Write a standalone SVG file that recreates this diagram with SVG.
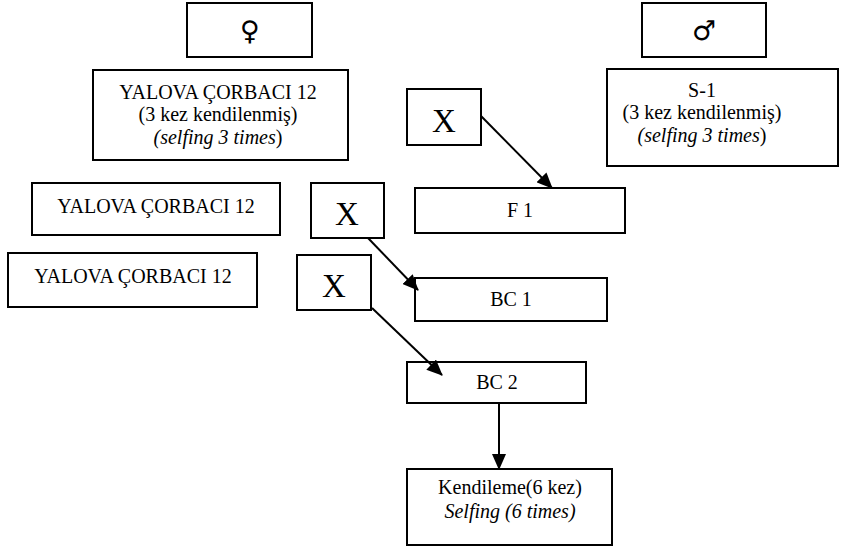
<svg xmlns="http://www.w3.org/2000/svg" width="846" height="547" viewBox="0 0 846 547">
<style>
.box{fill:#fff;stroke:#000;stroke-width:2}
.t{font-family:"Liberation Serif","Times New Roman",serif;font-size:20px;fill:#000;text-anchor:middle}
.i{font-style:italic}
.x{font-family:"Liberation Serif","Times New Roman",serif;font-size:33px;fill:#000;text-anchor:middle}
.sym{font-family:"DejaVu Sans",sans-serif;font-size:27px;fill:#000;text-anchor:middle}
.c{stroke:#000;stroke-width:2;fill:none;marker-end:url(#ah)}
</style>
<defs>
<marker id="ah" markerUnits="userSpaceOnUse" markerWidth="16" markerHeight="14" refX="15" refY="7" orient="auto">
<path d="M0,0 L16,7 L0,14 Z" fill="#000"/>
</marker>
</defs>
<rect width="846" height="547" fill="#fff"/>
<g id="female"><rect class="box" x="187" y="3" width="125" height="54"/><text class="sym" x="250" y="40">♀</text></g>
<g id="male"><rect class="box" x="642" y="3" width="124" height="54"/><text class="sym" x="704" y="40">♂</text></g>
<g id="yalova1"><rect class="box" x="93" y="70" width="255" height="90"/>
<text class="t" x="218" y="99">YALOVA ÇORBACI 12</text>
<text class="t" x="218" y="121">(3 kez kendilenmiş)</text>
<text class="t" x="218" y="144"><tspan class="i">(selfing 3 times</tspan>)</text></g>
<g id="s1"><rect class="box" x="607" y="69" width="231" height="97"/>
<text class="t" x="702" y="97">S-1</text>
<text class="t" x="702" y="119">(3 kez kendilenmiş)</text>
<text class="t" x="702" y="142"><tspan class="i">(selfing 3 times</tspan>)</text></g>
<g id="x1"><rect class="box" x="407" y="89" width="74" height="56"/><text class="x" x="444" y="132">X</text></g>
<g id="f1"><rect class="box" x="415" y="188" width="210" height="45"/><text class="t" x="520" y="217">F 1</text></g>
<g id="yalova2"><rect class="box" x="32" y="183" width="248" height="52"/><text class="t" x="156" y="213">YALOVA ÇORBACI 12</text></g>
<g id="x2"><rect class="box" x="311" y="183" width="73" height="55"/><text class="x" x="347" y="225">X</text></g>
<g id="yalova3"><rect class="box" x="8" y="253" width="249" height="54"/><text class="t" x="133" y="283">YALOVA ÇORBACI 12</text></g>
<g id="x3"><rect class="box" x="297" y="255" width="74" height="55"/><text class="x" x="334" y="297">X</text></g>
<g id="bc1"><rect class="box" x="415" y="278" width="192" height="43"/><text class="t" x="511" y="306">BC 1</text></g>
<g id="bc2"><rect class="box" x="407" y="362" width="179" height="41"/><text class="t" x="497" y="389">BC 2</text></g>
<g id="kendileme"><rect class="box" x="407" y="469" width="205" height="76"/>
<text class="t" x="510" y="494">Kendileme(6 kez)</text>
<text class="t i" x="510" y="518">Selfing (6 times)</text></g>
<g id="connectors">
<line class="c" x1="481" y1="116" x2="552" y2="188"/>
<line class="c" x1="368" y1="238" x2="418" y2="290"/>
<line class="c" x1="372" y1="308" x2="442" y2="375"/>
<line class="c" x1="499" y1="403" x2="499" y2="469"/>
</g>
</svg>
